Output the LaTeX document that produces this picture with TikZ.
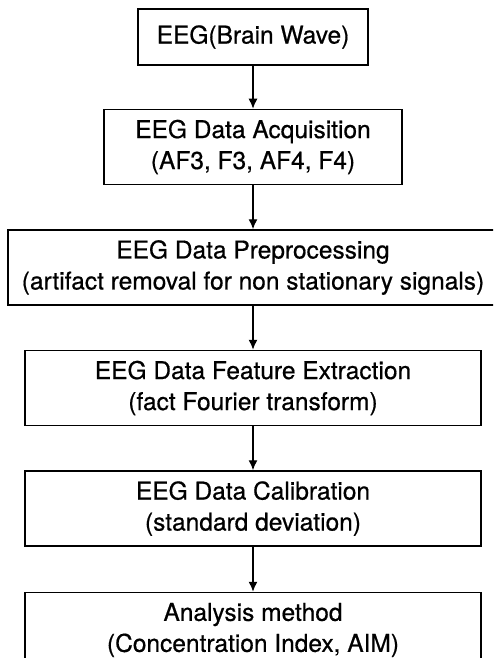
\documentclass[tikz,border=0pt]{standalone}
\usepackage{fontspec}
\setmainfont{TeX Gyre Heros}[FakeBold=0.6]
\usetikzlibrary{arrows.meta,positioning}

\begin{document}
\begin{tikzpicture}[
    x=1pt,y=1pt,
    box/.style={draw,line width=1.5pt,minimum height=75pt,align=center,inner sep=0pt,
        font=\fontsize{24.5}{31}\selectfont},
    ->/.style={-{Latex[length=10pt,width=9pt]}},
    link/.style={line width=1.4pt},
]

% Frame
\clip (0,0) rectangle (493,-658);

% Steps
\node[box,minimum width=230pt,minimum height=56pt] (EEG) at (253,-37) {EEG(Brain Wave)};
\node[box,minimum width=298pt,below=43pt of EEG] (ACQ) {EEG Data Acquisition\\(AF3, F3, AF4, F4)};
\node[box,minimum width=490pt,below=44pt of ACQ] (PRE) {EEG Data Preprocessing\\(artifact removal for non stationary signals)};
\node[box,minimum width=456pt,below=44pt of PRE] (FEAT) {EEG Data Feature Extraction\\(fact Fourier transform)};
\node[box,minimum width=456pt,below=44pt of FEAT] (CAL) {EEG Data Calibration\\(standard deviation)};
\node[box,minimum width=456pt,below=45pt of CAL] (AIM) {Analysis method\\(Concentration Index, AIM)};

% Arrows
\draw[link,->] (EEG) -- (ACQ);
\draw[link,->] (ACQ) -- (PRE);
\draw[link,->] (PRE) -- (FEAT);
\draw[link,->] (FEAT) -- (CAL);
\draw[link,->] (CAL) -- (AIM);

\end{tikzpicture}
\end{document}
